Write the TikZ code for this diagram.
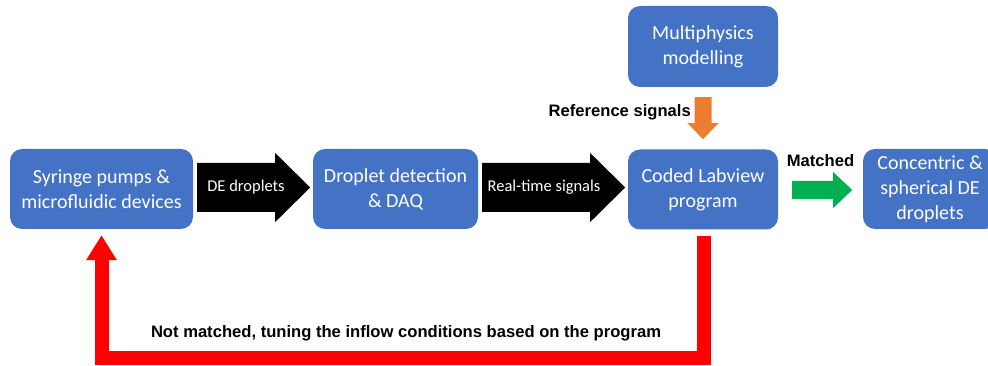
\documentclass[tikz,border=0pt]{standalone}
\usepackage{fontspec}
\setmainfont{Carlito}
\newfontfamily\arialfont{Liberation Sans}
\usetikzlibrary{arrows.meta}
\definecolor{boxblue}{HTML}{4472C4}
\definecolor{refOrange}{HTML}{ED7D31}
\definecolor{okGreen}{HTML}{00B050}
\definecolor{loopRed}{HTML}{FF0000}
\begin{document}
\begin{tikzpicture}[x=1pt,y=-1pt,
  stage/.style={fill=boxblue, rounded corners=12pt, text=white, align=center,
    font=\fontsize{20}{25}\selectfont, minimum height=80pt, inner sep=0pt},
  flowtext/.style={text=white, font=\fontsize{16.5}{20}\selectfont, inner sep=0pt},
  tag/.style={font=\arialfont\bfseries\fontsize{16.6}{20}\selectfont, inner sep=0pt},
  feedback/.style={draw=loopRed, line width=14pt, line join=miter,
    -{Triangle[width=29pt, length=25pt]}},
  ]
\path[use as bounding box, clip] (0,0) rectangle (988,366);
\node[stage, minimum width=183pt] (pumps) at (101.5,189) {Syringe pumps \&\\microfluidic devices};
\node[stage, minimum width=165pt] (detect) at (395.5,189) {Droplet detection\\\& DAQ};
\node[stage, minimum width=150pt] (prog) at (703,189.5) {Coded Labview\\program};
\node[stage, minimum width=150pt, minimum height=81pt] (model) at (703,46.5) {Multiphysics\\modelling};
\node[stage, minimum width=134pt] (drops) at (930,189) {Concentric \&\\spherical DE\\droplets};
\fill[black] ([xshift=4pt]pumps.east) ++(0,-26) -- ++(78,0) -- ++(0,-10) -- ++(35,34.5)
  -- ++(-35,34.5) -- ++(0,-10) -- ++(-78,0) -- cycle;
\fill[black] ([xshift=4pt]detect.east) ++(0,-26) -- ++(108,0) -- ++(0,-10) -- ++(35,34.5)
  -- ++(-35,34.5) -- ++(0,-10) -- ++(-108,0) -- cycle;
\fill[refOrange] ([yshift=-10pt]model.south) ++(-8.5,0) -- ++(17,0) -- ++(0,26) -- ++(7,0)
  -- ++(-15.5,16) -- ++(-15.5,-16) -- ++(7,0) -- cycle;
\fill[okGreen] ([xshift=14pt]prog.east) ++(0,-8.5) -- ++(41,0) -- ++(0,-9) -- ++(19,18)
  -- ++(-19,18) -- ++(0,-9) -- ++(-41,0) -- cycle;
\node[flowtext] (de) at (246,187) {DE droplets};
\node[flowtext] (rt) at (544,187) {Real-time signals};
\node[tag, anchor=east] (reflabel) at (691,112) {Reference signals};
\node[tag] (oklabel) at (820.5,161) {Matched};
\node[tag] (looplabel) at (406,333) {Not matched, tuning the inflow conditions based on the program};
\draw[feedback] ([xshift=1pt, yshift=-6pt]prog.south) -- ++(0,122) -| ([yshift=-6pt]pumps.south);
\end{tikzpicture}
\end{document}
